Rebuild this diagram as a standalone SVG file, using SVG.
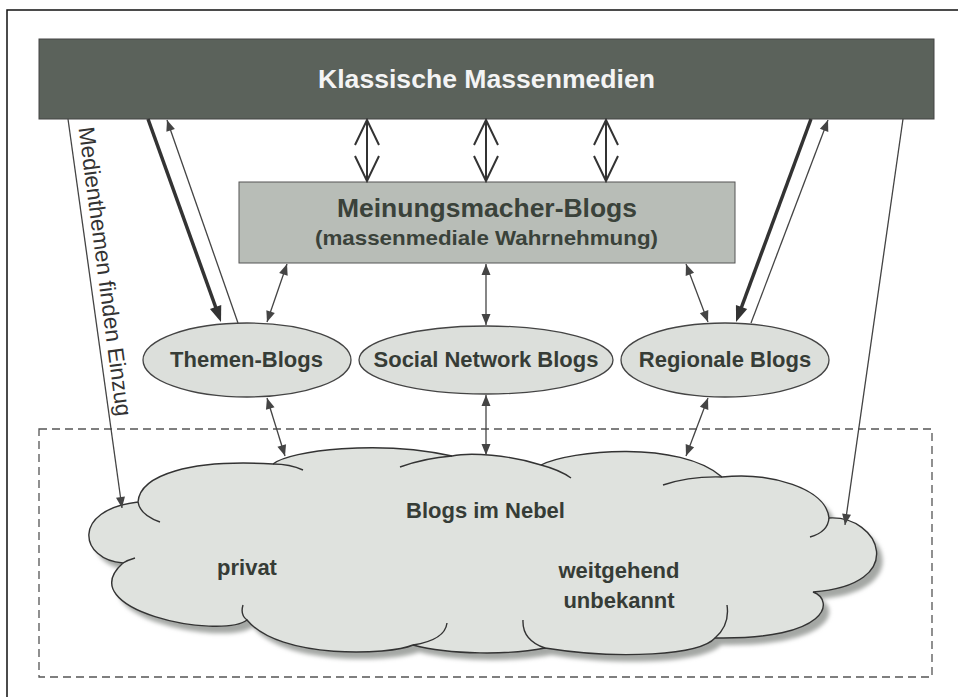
<svg xmlns="http://www.w3.org/2000/svg" width="958" height="697" viewBox="0 0 958 697">
<style>
.lbl{font-family:"Liberation Sans",Arial,Helvetica,sans-serif;font-weight:bold;fill:#363c36;text-anchor:middle}
.thin{stroke:#444;stroke-width:1.3;fill:none}
.ell{fill:#dcdfdb;stroke:#444;stroke-width:1.3}
.curl{fill:none;stroke:#333;stroke-width:1.4}
.dbl{stroke:#333;stroke-width:2;fill:none}
</style>
<defs>
<marker id="ah" viewBox="-12 -6 14 12" refX="0" refY="0" markerWidth="14" markerHeight="12" markerUnits="userSpaceOnUse" orient="auto-start-reverse">
<path d="M-11,-4.5 L0,0 L-11,4.5 z" fill="#444"/>
</marker>
<marker id="ahb" viewBox="-10 -8 20 16" refX="0" refY="0" markerWidth="20" markerHeight="16" markerUnits="userSpaceOnUse" orient="auto">
<path d="M-8,-6 L8,0 L-8,6 z" fill="#333"/>
</marker>
<marker id="chev" viewBox="-28 -14 30 28" refX="0" refY="0" markerWidth="30" markerHeight="28" markerUnits="userSpaceOnUse" orient="auto-start-reverse">
<path d="M-25,-12 L0,0 L-25,12" fill="none" stroke="#333" stroke-width="2"/>
</marker>
<filter id="blur" x="-5%" y="-10%" width="110%" height="120%"><feGaussianBlur stdDeviation="2"/></filter>
<path id="cloudShape" d="M138,502 C140,475 190,459 273,464 C290,450 380,440 452,456 C470,452 510,455 541,465 C570,450 680,440 722,477 C770,472 826,488 829,518 C880,515 910,585 813,592 C835,600 830,640 715,638 C700,655 620,660 545,648 C510,655 450,655 413,645 C390,655 280,660 247,620 C220,640 70,610 123,563 C80,560 70,510 138,502 Z"/>
</defs>
<rect width="958" height="697" fill="#ffffff"/>
<g id="frame">
<path d="M7,697 V10 H958" fill="none" stroke="#111" stroke-width="1.5"/>
</g>
<g id="nebel-bereich">
<rect x="39" y="429" width="893" height="248" fill="none" stroke="#555" stroke-width="1.3" stroke-dasharray="8 5"/>
</g>
<g id="node-blogs-im-nebel">
<use href="#cloudShape" transform="translate(6,7)" fill="#a4a7a4" filter="url(#blur)"/>
<use href="#cloudShape" fill="#dfe2de" stroke="#333" stroke-width="1.4"/>
<path class="curl" d="M138,502 Q140,515 160,522 M273,464 Q290,464 303,470 M452,456 Q425,458 400,467 M541,465 Q560,470 571,478 M722,477 Q690,476 663,485 M829,518 Q828,532 810,537 M715,638 Q730,625 727,605 M545,648 Q522,640 523,620 M413,645 Q445,640 447,623 M247,620 Q240,615 243,605 M123,563 Q128,560 135,558"/>
<text class="lbl" x="485.5" y="518" font-size="22">Blogs im Nebel</text>
<text class="lbl" x="247" y="575" font-size="22">privat</text>
<text class="lbl" x="619" y="578" font-size="22">weitgehend</text>
<text class="lbl" x="619" y="608" font-size="22">unbekannt</text>
</g>
<g id="node-massenmedien">
<rect x="39" y="39" width="895" height="80" fill="#5b625b" stroke="#444" stroke-width="1"/>
<text class="lbl" x="486.5" y="88" font-size="25" textLength="337" lengthAdjust="spacingAndGlyphs" style="fill:#f4f4f4">Klassische Massenmedien</text>
</g>
<g id="node-meinungsmacher">
<rect x="239" y="182" width="496" height="81" fill="#b8bdb7" stroke="#555" stroke-width="1"/>
<text class="lbl" x="487" y="217" font-size="25" textLength="300" lengthAdjust="spacingAndGlyphs" style="fill:#3a423a">Meinungsmacher-Blogs</text>
<text class="lbl" x="486.5" y="245" font-size="21" textLength="343" lengthAdjust="spacingAndGlyphs" style="fill:#3a423a">(massenmediale Wahrnehmung)</text>
</g>
<g id="node-themen-blogs">
<ellipse class="ell" cx="247" cy="360" rx="104" ry="37"/>
<text class="lbl" x="246.5" y="367" font-size="22">Themen-Blogs</text>
</g>
<g id="node-social-network-blogs">
<ellipse class="ell" cx="486" cy="360" rx="127" ry="34"/>
<text class="lbl" x="486" y="367" font-size="22">Social Network Blogs</text>
</g>
<g id="node-regionale-blogs">
<ellipse class="ell" cx="725" cy="360" rx="104" ry="37"/>
<text class="lbl" x="725" y="367" font-size="22">Regionale Blogs</text>
</g>
<g id="connectors">
<line class="dbl" x1="367" y1="120" x2="367" y2="181" marker-start="url(#chev)" marker-end="url(#chev)"/>
<line class="dbl" x1="486" y1="120" x2="486" y2="181" marker-start="url(#chev)" marker-end="url(#chev)"/>
<line class="dbl" x1="606" y1="120" x2="606" y2="181" marker-start="url(#chev)" marker-end="url(#chev)"/>
<line class="thin" x1="287" y1="264" x2="267" y2="322" marker-start="url(#ah)" marker-end="url(#ah)"/>
<line class="thin" x1="486" y1="264" x2="486" y2="325" marker-start="url(#ah)" marker-end="url(#ah)"/>
<line class="thin" x1="686" y1="264" x2="708" y2="322" marker-start="url(#ah)" marker-end="url(#ah)"/>
<line class="thin" x1="267" y1="398" x2="285" y2="456" marker-start="url(#ah)" marker-end="url(#ah)"/>
<line class="thin" x1="486" y1="395" x2="486" y2="455" marker-start="url(#ah)" marker-end="url(#ah)"/>
<line class="thin" x1="708" y1="398" x2="686" y2="456" marker-start="url(#ah)" marker-end="url(#ah)"/>
<line x1="148" y1="119" x2="218.3" y2="314.5" stroke="#333" stroke-width="3.5" marker-end="url(#ahb)"/>
<line class="thin" x1="238" y1="323" x2="167" y2="120" marker-end="url(#ah)"/>
<line x1="811" y1="119" x2="738.8" y2="314.5" stroke="#333" stroke-width="3.5" marker-end="url(#ahb)"/>
<line class="thin" x1="751" y1="323" x2="828" y2="120" marker-end="url(#ah)"/>
<line class="thin" x1="68" y1="119" x2="122" y2="508" marker-end="url(#ah)"/>
<line class="thin" x1="903" y1="119" x2="845" y2="525" marker-end="url(#ah)"/>
<text x="78.5" y="128" font-size="22.5" transform="rotate(82.5 78.5 128)" style="font-family:'Liberation Sans',Arial,sans-serif;fill:#333">Medienthemen finden Einzug</text>
</g>
</svg>
